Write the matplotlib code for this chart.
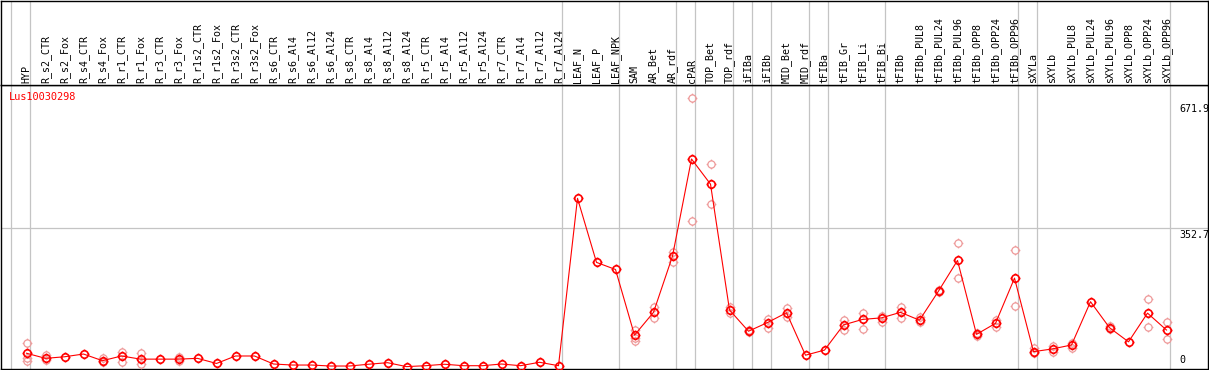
import numpy as np
import matplotlib
matplotlib.use("Agg")
import matplotlib.pyplot as plt
from matplotlib.path import Path
from matplotlib.transforms import blended_transform_factory

plt.rcParams['font.family'] = ['DejaVu Sans Mono']

gene = "Lus10030298"

samples = ["HYP",
           "R_s2_CTR", "R_s2_Fox", "R_s4_CTR", "R_s4_Fox", "R_r1_CTR", "R_r1_Fox",
           "R_r3_CTR", "R_r3_Fox", "R_r1s2_CTR", "R_r1s2_Fox", "R_r3s2_CTR", "R_r3s2_Fox",
           "R_s6_CTR", "R_s6_Al4", "R_s6_Al12", "R_s6_Al24", "R_s8_CTR", "R_s8_Al4",
           "R_s8_Al12", "R_s8_Al24", "R_r5_CTR", "R_r5_Al4", "R_r5_Al12", "R_r5_Al24",
           "R_r7_CTR", "R_r7_Al4", "R_r7_Al12", "R_r7_Al24",
           "LEAF_N", "LEAF_P", "LEAF_NPK", "SAM", "AR_Bet", "AR_rdf", "cPAR",
           "TOP_Bet", "TOP_rdf", "iFIBa", "iFIBb", "MID_Bet", "MID_rdf", "tFIBa",
           "tFIB_Gr", "tFIB_Li", "tFIB_Bi", "tFIBb", "tFIBb_PUL8", "tFIBb_PUL24",
           "tFIBb_PUL96", "tFIBb_OPP8", "tFIBb_OPP24", "tFIBb_OPP96", "sXYLa", "sXYLb",
           "sXYLb_PUL8", "sXYLb_PUL24", "sXYLb_PUL96", "sXYLb_OPP8", "sXYLb_OPP24",
           "sXYLb_OPP96"]

mean_expr = [35,
             22, 26, 33, 16, 28, 20, 20, 20, 22, 9, 28, 28,
             7.6, 5, 5, 2.5, 2.5, 7, 11, 1, 3.3, 7, 3.3, 3.3, 7.6, 3.3, 12, 3.3,
             429, 266, 248, 81, 139, 282, 529, 465, 145, 91, 113, 138, 30, 43,
             107, 121, 125, 139, 119, 193, 271, 83, 111, 226, 39, 46,
             56, 166, 100, 64, 137, 94]

replicates = [[60, 22, 14],
              [30, 18], [], [], [23, 13], [37, 13], [35, 7], [], [26, 15], [], [], [], [],
              [], [], [], [], [], [], [], [], [], [], [], [], [], [], [], [],
              [], [], [], [94, 73, 66], [152, 125], [293, 268], [683, 371], [515, 414],
              [153, 137], [95, 88], [121, 100], [149, 126], [], [],
              [120, 94], [137, 96], [130, 115], [153, 125], [128, 114], [196, 190],
              [315, 226], [86, 80], [120, 102], [298, 155], [48, 35], [53, 38],
              [61, 48], [], [104, 97], [], [173, 102], [114, 71]]

# group separators (after these sample indices)
group_ends = [-1, 0, 28, 31, 34, 35, 37, 38, 39, 41, 42, 45, 52, 53, 60]

ytick_vals = [671.9, 352.7, 0]

x = np.arange(len(samples))

# circle with four little ticks outside
circ = Path.unit_circle()
ticks = [Path([(0, 1), (0, 1.35)]), Path([(0, -1), (0, -1.35)]),
         Path([(1, 0), (1.35, 0)]), Path([(-1, 0), (-1.35, 0)])]
sun = Path.make_compound_path(circ, *ticks)

W, H = 1209, 370
fig = plt.figure(figsize=(W / 100, H / 100), dpi=100)

left_px, right_px = 0.5, 1207.5
top_main, bot_main = 85, 368.5
ax = fig.add_axes([left_px / W, (H - bot_main) / H, (right_px - left_px) / W, (bot_main - top_main) / H])
axh = fig.add_axes([left_px / W, (H - top_main) / H, (right_px - left_px) / W, (top_main - 0.8) / H])

x0, dx = 26.5, 19.0
xlim = ((left_px - x0) / dx, (right_px - x0) / dx)
for a in (ax, axh):
    a.set_xlim(*xlim)
    a.set_xticks([])
    a.set_yticks([])
    for s in a.spines.values():
        s.set_linewidth(1.0)
        s.set_color('black')
    for g in group_ends:
        a.axvline(g + 0.184, color='#c4c4c4', lw=0.9, zorder=1)

y0, k = 367, 2.543
ax.set_ylim((y0 - bot_main) * k, (y0 - top_main) * k)
axh.set_ylim(0, 1)

ax.axhline(352.7, color='#c4c4c4', lw=0.9, zorder=1)

# replicates
for i, reps in enumerate(replicates):
    if reps:
        ax.plot([i] * len(reps), reps, linestyle='none', marker=sun, markersize=7.0,
                mfc='none', mec='#ee9a9a', mew=0.9, zorder=3)

ax.plot(x, mean_expr, color='red', lw=0.8, zorder=4)
ax.plot(x, mean_expr, linestyle='none', marker=sun, markersize=7.2,
        mfc='none', mec='red', mew=1.2, zorder=5)

# sample labels
for i, name in enumerate(samples):
    axh.text(i, 0.025, name, rotation=90, ha='center', va='bottom',
             fontsize=7.2, color='black')

fig.text(9 / W, 1 - 97 / H, gene, color='red', fontsize=7.4, ha='left', va='center')

tr = blended_transform_factory(ax.transAxes, ax.transData)
lx = (1179 - left_px) / (right_px - left_px)
for v in ytick_vals:
    if v == 0:
        ax.annotate("0", (lx, v), xycoords=tr, xytext=(0, 1.5), textcoords='offset points',
                    ha='left', va='bottom', fontsize=7.2)
    else:
        ax.annotate(f"{v}", (lx, v), xycoords=tr, xytext=(0, -1.2), textcoords='offset points',
                    ha='left', va='top', fontsize=7.2)

fig.savefig("out.png", dpi=100)
